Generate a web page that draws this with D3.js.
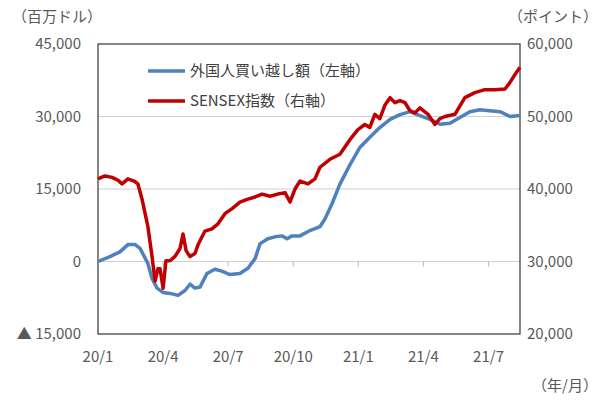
<!DOCTYPE html>
<html><head><meta charset="utf-8">
<script src="https://cdn.jsdelivr.net/npm/d3@7"></script>
<style>body{margin:0;background:#fff}text{font-family:"Noto Sans CJK JP","Noto Sans",sans-serif}</style>
</head><body><div id="chart"></div>
<script>
// months since 2020/1 and values
const flowMonths = [0,.55,1.01,1.38,1.71,1.94,2.30,2.49,2.72,3.0,3.32,3.69,4.01,4.24,4.47,4.7,5.02,5.39,5.71,6.08,6.54,6.91,7.24,7.47,7.83,8.16,8.48,8.71,8.94,9.31,9.77,10.23,10.46,10.78,11.15,11.61,12.07,12.53,12.99,13.46,13.92,14.38,14.84,15.30,15.76,16.22,16.68,17.14,17.60,18.06,18.53,18.99,19.45];
const flowValues = [0,1000,2000,3500,3500,2700,-400,-3500,-5500,-6400,-6600,-7000,-6000,-4700,-5500,-5300,-2500,-1600,-2000,-2700,-2500,-1400,600,3700,4700,5100,5300,4700,5300,5300,6400,7200,8800,11900,16000,20000,23600,25700,27700,29400,30400,31000,30200,29400,28400,28600,29800,31000,31400,31200,31000,30000,30200];
const sensexMonths = [0,.32,.65,.92,1.11,1.38,1.66,1.84,2.03,2.30,2.49,2.63,2.76,2.86,3.0,3.13,3.32,3.55,3.78,3.92,4.06,4.24,4.47,4.61,4.93,5.25,5.53,5.85,6.18,6.54,6.91,7.24,7.56,7.93,8.29,8.62,8.85,9.08,9.31,9.68,10.0,10.23,10.69,11.15,11.61,11.98,12.30,12.53,12.76,12.99,13.23,13.46,13.69,13.92,14.15,14.38,14.61,14.84,15.21,15.53,15.76,15.99,16.45,16.91,17.37,17.83,18.29,18.76,18.99,19.22,19.45];
const sensexValues = [41400,41800,41600,41200,40700,41400,41100,40700,38600,34800,30700,27300,29000,29000,26300,30100,30100,30700,31800,33800,31500,30700,31100,32300,34200,34500,35200,36600,37300,38200,38600,38900,39300,39000,39300,39500,38200,40000,41100,40700,41400,43000,44100,44800,46800,48200,48900,48500,50300,49700,51600,52600,51900,52200,51900,50800,50500,51200,50300,48900,49700,50000,50300,52600,53300,53700,53700,53800,54700,55800,56800];
const xTicks = [0,3,6,9,12,15,18];
const xTickLabels = ["20/1","20/4","20/7","20/10","21/1","21/4","21/7"];
const leftTicks = [-15000,0,15000,30000,45000];
const rightTicks = [20000,30000,40000,50000,60000];
const legendNames = ["外国人買い越し額（左軸）","SENSEX指数（右軸）"];
const colors = ["#4F81BD","#C00000"];

const W = 600, H = 402;
const svg = d3.select('#chart').append('svg').attr('width', W).attr('height', H);
const x = d3.scaleLinear().domain([0, 19.45]).range([98, 520]);
const yL = d3.scaleLinear().domain([-15000, 45000]).range([334, 44]);
const yR = d3.scaleLinear().domain([20000, 60000]).range([334, 44]);
const fmt = d3.format(',');

// gridlines
svg.append('g').selectAll('line').data(leftTicks.slice(1, 4)).enter().append('line')
  .attr('x1', 98).attr('x2', 520).attr('y1', d => yL(d)).attr('y2', d => yL(d))
  .attr('stroke', '#d0d0d0').attr('stroke-width', 1);

// tick marks on zero line
svg.append('g').selectAll('line').data(xTicks.slice(1)).enter().append('line')
  .attr('x1', d => x(d)).attr('x2', d => x(d)).attr('y1', yL(0)).attr('y2', yL(0) + 5)
  .attr('stroke', '#bbb');

// frame
svg.append('rect').attr('x', 98).attr('y', 44).attr('width', 422).attr('height', 290)
  .attr('fill', 'none').attr('stroke', '#444').attr('stroke-width', 1.3);

const line = (xs, ys, yScale) => d3.line().x((d, i) => x(xs[i])).y(d => yScale(d))(ys);
svg.append('path').attr('d', line(flowMonths, flowValues, yL))
  .attr('fill', 'none').attr('stroke', colors[0]).attr('stroke-width', 3.5).attr('stroke-linejoin', 'round');
svg.append('path').attr('d', line(sensexMonths, sensexValues, yR))
  .attr('fill', 'none').attr('stroke', colors[1]).attr('stroke-width', 3.5).attr('stroke-linejoin', 'round');

const txt = { fill: '#595959', 'font-size': 15 };
const addText = (sel, attrs) => { Object.entries({...txt, ...attrs}).forEach(([k, v]) => sel.attr(k, v)); return sel; };

svg.append('g').selectAll('text').data(leftTicks).enter().append('text')
  .attr('x', 81).attr('y', d => yL(d) + 5).attr('text-anchor', 'end')
  .attr('fill', '#595959').attr('font-size', 15)
  .text(d => d < 0 ? '▲ ' + fmt(-d) : fmt(d));
svg.append('g').selectAll('text').data(rightTicks).enter().append('text')
  .attr('x', 527).attr('y', d => yR(d) + 5).attr('text-anchor', 'start')
  .attr('fill', '#595959').attr('font-size', 15)
  .text(d => fmt(d));
svg.append('g').selectAll('text').data(xTicks).enter().append('text')
  .attr('x', d => x(d)).attr('y', 362).attr('text-anchor', 'middle')
  .attr('fill', '#595959').attr('font-size', 15)
  .text((d, i) => xTickLabels[i]);

addText(svg.append('text'), { x: 12, y: 22 }).text('（百万ドル）');
addText(svg.append('text'), { x: 598, y: 22, 'text-anchor': 'end' }).text('（ポイント）');
addText(svg.append('text'), { x: 598, y: 391, 'text-anchor': 'end' }).text('（年/月）');

legendNames.forEach((name, i) => {
  const ly = 71 + i * 30;
  svg.append('line').attr('x1', 148).attr('x2', 185).attr('y1', ly).attr('y2', ly)
    .attr('stroke', colors[i]).attr('stroke-width', 3.5);
  addText(svg.append('text'), { x: 190, y: ly + 5, fill: '#404040' }).text(name);
});
</script></body></html>
